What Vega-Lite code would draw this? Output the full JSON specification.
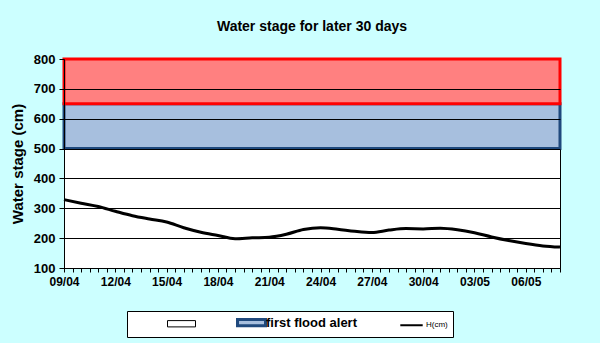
{
  "$schema": "https://vega.github.io/schema/vega-lite/v6.json",
  "width": 496,
  "height": 209,
  "autosize": {"type": "none"},
  "padding": {"left": 64, "top": 59, "right": 40, "bottom": 75},
  "background": "#CCFFFF",
  "title": {
    "text": "Water stage for later 30 days",
    "font": "Liberation Sans",
    "fontSize": 14,
    "fontWeight": "bold",
    "color": "black",
    "anchor": "middle",
    "offset": 19
  },
  "config": {
    "view": {"fill": "white", "stroke": "black", "strokeWidth": 1},
    "font": "Liberation Sans",
    "axisY": {
      "grid": true,
      "gridColor": {
        "condition": {"test": "datum.value == 800", "value": "#FF0000"},
        "value": "black"
      },
      "gridOpacity": 1,
      "domainColor": "black",
      "tickColor": "black",
      "tickSize": 5,
      "labelPadding": 4,
      "labelOverlap": false,
      "labelFont": "Liberation Sans",
      "labelFontSize": 13,
      "labelFontWeight": "bold",
      "labelColor": "black",
      "titleFont": "Liberation Sans",
      "titleFontSize": 15,
      "titleFontWeight": "bold",
      "titleColor": "black",
      "titlePadding": 8
    }
  },
  "datasets": {
    "stage": [
      {"date": "2010-04-09", "h": 329, "series": "H(cm)"},
      {"date": "2010-04-10", "h": 317, "series": "H(cm)"},
      {"date": "2010-04-11", "h": 306, "series": "H(cm)"},
      {"date": "2010-04-12", "h": 290, "series": "H(cm)"},
      {"date": "2010-04-13", "h": 275, "series": "H(cm)"},
      {"date": "2010-04-14", "h": 264, "series": "H(cm)"},
      {"date": "2010-04-15", "h": 254, "series": "H(cm)"},
      {"date": "2010-04-16", "h": 235, "series": "H(cm)"},
      {"date": "2010-04-17", "h": 220, "series": "H(cm)"},
      {"date": "2010-04-18", "h": 209, "series": "H(cm)"},
      {"date": "2010-04-19", "h": 198, "series": "H(cm)"},
      {"date": "2010-04-20", "h": 201, "series": "H(cm)"},
      {"date": "2010-04-21", "h": 203, "series": "H(cm)"},
      {"date": "2010-04-22", "h": 213, "series": "H(cm)"},
      {"date": "2010-04-23", "h": 229, "series": "H(cm)"},
      {"date": "2010-04-24", "h": 235, "series": "H(cm)"},
      {"date": "2010-04-25", "h": 230, "series": "H(cm)"},
      {"date": "2010-04-26", "h": 223, "series": "H(cm)"},
      {"date": "2010-04-27", "h": 219, "series": "H(cm)"},
      {"date": "2010-04-28", "h": 227, "series": "H(cm)"},
      {"date": "2010-04-29", "h": 232, "series": "H(cm)"},
      {"date": "2010-04-30", "h": 231, "series": "H(cm)"},
      {"date": "2010-05-01", "h": 233, "series": "H(cm)"},
      {"date": "2010-05-02", "h": 228, "series": "H(cm)"},
      {"date": "2010-05-03", "h": 218, "series": "H(cm)"},
      {"date": "2010-05-04", "h": 204, "series": "H(cm)"},
      {"date": "2010-05-05", "h": 192, "series": "H(cm)"},
      {"date": "2010-05-06", "h": 182, "series": "H(cm)"},
      {"date": "2010-05-07", "h": 174, "series": "H(cm)"},
      {"date": "2010-05-08", "h": 170, "series": "H(cm)"}
    ],
    "bands": [
      {"band": "first flood alert", "low": 500, "high": 650},
      {"band": "second flood alert", "low": 650, "high": 800}
    ]
  },
  "layer": [
    {
      "data": {"name": "bands"},
      "mark": {"type": "rect", "strokeWidth": 3},
      "encoding": {
        "y": {
          "field": "low",
          "type": "quantitative",
          "scale": {"domain": [100, 800], "nice": false, "zero": false},
          "axis": {
            "title": "Water stage (cm)",
            "values": [100, 200, 300, 400, 500, 600, 700, 800],
            "zindex": 1
          }
        },
        "y2": {"field": "high"},
        "fill": {
          "field": "band",
          "type": "nominal",
          "scale": {"domain": ["first flood alert", "second flood alert"], "range": ["#A7BFDE", "#FF8080"]},
          "legend": null
        },
        "stroke": {
          "field": "band",
          "type": "nominal",
          "scale": {"domain": ["first flood alert", "second flood alert"], "range": ["#1F497D", "#FF0000"]},
          "legend": null
        }
      }
    },
    {
      "data": {"name": "stage"},
      "mark": {"type": "line", "interpolate": "monotone", "strokeWidth": 3},
      "encoding": {
        "x": {
          "field": "date",
          "type": "temporal",
          "scale": {"type": "utc", "nice": false},
          "axis": {
            "title": null,
            "grid": false,
            "tickCount": 60,
            "labelExpr": "utchours(datum.value) == 0 && round((datum.value - utc(2010,3,9)) / 86400000) % 3 == 0 ? utcFormat(datum.value, '%d/%m') : ''",
            "labelOverlap": false,
            "labelFlush": false,
            "labelBound": false,
            "domainColor": "black",
            "tickColor": "black",
            "tickSize": 4,
            "labelPadding": 4,
            "labelFont": "Liberation Sans",
            "labelFontSize": 12,
            "labelFontWeight": "bold",
            "labelColor": "black",
            "zindex": 1
          }
        },
        "y": {
          "field": "h",
          "type": "quantitative",
          "axis": {
            "title": "Water stage (cm)",
            "values": [100, 200, 300, 400, 500, 600, 700, 800],
            "zindex": 1
          }
        },
        "color": {
          "field": "series",
          "type": "nominal",
          "scale": {"domain": ["area", "first flood alert", "H(cm)"], "range": ["black", "#1F497D", "black"]},
          "legend": {
            "title": null,
            "orient": "none",
            "legendX": 63,
            "legendY": 252,
            "direction": "horizontal",
            "padding": 5,
            "strokeColor": "black",
            "fillColor": "white",
            "symbolSize": 196,
            "symbolOffset": 43,
            "columnPadding": 4,
            "labelOffset": 8,
            "labelExpr": "datum.label == 'area' ? '' : (datum.label == 'H(cm)' ? datum.label + '              ' : datum.label)",
            "labelFont": "Liberation Sans",
            "labelColor": "black",
            "labelFontSize": 13,
            "labelFontWeight": "bold",
            "encode": {
              "symbols": {
                "update": {
                  "shape": {"signal": "datum.value == 'H(cm)' ? 'M-1.6,0H1.6' : 'M-2,-0.45H2V0.45H-2Z'"},
                  "fill": {"signal": "datum.value == 'H(cm)' ? 'transparent' : (datum.value == 'area' ? 'white' : '#A7BFDE')"},
                  "strokeWidth": {"signal": "datum.value == 'area' ? 1 : (datum.value == 'H(cm)' ? 2 : 3)"},
                  "opacity": {"value": 1}
                }
              },
              "labels": {
                "update": {
                  "fill": {"value": "black"},
                  "fontSize": {"signal": "datum.value == 'H(cm)' ? 8 : 13"},
                  "fontWeight": {"signal": "datum.value == 'H(cm)' ? 'normal' : 'bold'"}
                }
              }
            }
          }
        }
      }
    }
  ]
}
